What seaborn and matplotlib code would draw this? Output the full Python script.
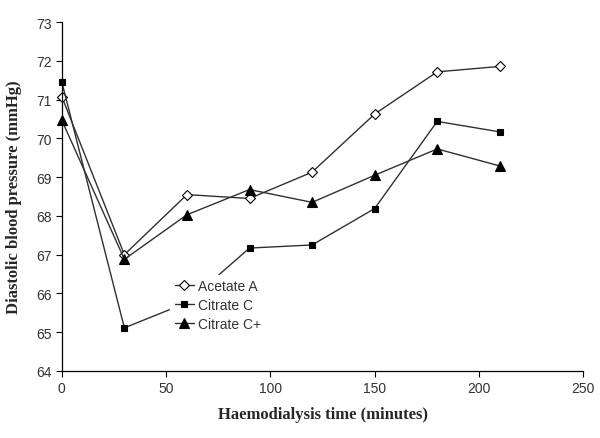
import numpy as np
import pandas as pd
import matplotlib
matplotlib.use('Agg')
import matplotlib.pyplot as plt
import seaborn as sns

# Data
minutes = [0, 30, 60, 90, 120, 150, 180, 210]
acetate_a = [71.08, 67.00, 68.55, 68.45, 69.13, 70.63, 71.72, 71.86]
citrate_c = [71.46, 65.11, 65.76, 67.17, 67.25, 68.19, 70.44, 70.17]
citrate_cplus = [70.47, 66.88, 68.03, 68.68, 68.35, 69.05, 69.73, 69.29]

series_names = ['Acetate A', 'Citrate C', 'Citrate C+']
series_values = [acetate_a, citrate_c, citrate_cplus]
series_markers = ['D', 's', '^']
series_face = ['white', 'black', 'black']
series_msize = [4.8, 4.8, 6.5]

sns.set_style('white')
plt.rcParams['font.family'] = ['Liberation Sans', 'DejaVu Sans']

fig = plt.figure(figsize=(6.0, 4.39), dpi=100)
ax = fig.add_axes([0.103, 0.153, 0.869, 0.794])

for name, vals, mk, fc, ms in zip(series_names, series_values, series_markers,
                                  series_face, series_msize):
    df = pd.DataFrame({'time': minutes, 'dbp': vals})
    sns.lineplot(data=df, x='time', y='dbp', ax=ax, color='#303030',
                 linewidth=1.0, marker=mk, markersize=ms,
                 markerfacecolor=fc, markeredgecolor='black',
                 markeredgewidth=0.8, label=name, clip_on=False)

ax.set_xlim(0, 250)
ax.set_ylim(64, 73)
ax.set_xticks(np.arange(0, 251, 50))
ax.set_yticks(np.arange(64, 74, 1))
ax.tick_params(axis='both', direction='out', length=4, width=0.8,
               colors='black', labelsize=10, labelcolor='#333333',
               left=True, bottom=True)
for side in ['top', 'right']:
    ax.spines[side].set_visible(False)
for side in ['left', 'bottom']:
    ax.spines[side].set_color('black')
    ax.spines[side].set_linewidth(0.9)

ax.set_xlabel('Haemodialysis time (minutes)', fontsize=12, fontweight='bold',
              family='Liberation Serif', labelpad=8)
ax.set_ylabel('Diastolic blood pressure (mmHg)', fontsize=12,
              fontweight='bold', family='Liberation Serif', labelpad=10)

leg = ax.legend(loc='upper left', bbox_to_anchor=(0.195, 0.295),
                frameon=True, fancybox=False, edgecolor='white',
                facecolor='white', framealpha=1.0, fontsize=10,
                handlelength=1.4, handletextpad=0.3, labelspacing=0.35,
                borderpad=0.3)
for t in leg.get_texts():
    t.set_color('#333333')

fig.savefig('out.png', dpi=100)
